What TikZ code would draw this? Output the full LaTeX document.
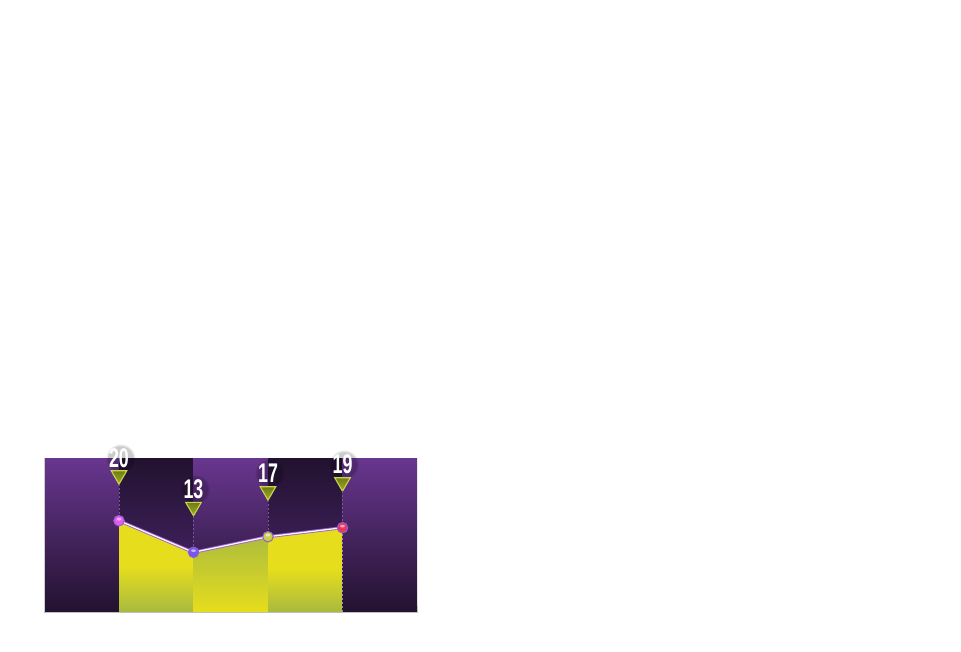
\documentclass[tikz,border=0pt]{standalone}
\usepackage{fontspec}
\newfontfamily\labfont{Liberation Sans}
\usetikzlibrary{shapes.geometric,fadings}
\definecolor{purpTop}{HTML}{68368F}
\definecolor{purpBot}{HTML}{22122F}
\definecolor{darkTop}{HTML}{22122F}
\definecolor{darkBot}{HTML}{4E2874}
\definecolor{yel}{HTML}{E6DD1C}
\definecolor{oli}{HTML}{A8BA3F}
\definecolor{linepurp}{HTML}{9C64D0}
\definecolor{triTop}{HTML}{6E7C16}
\definecolor{triBot}{HTML}{9CAE26}
\definecolor{triEdge}{HTML}{CBD548}
\definecolor{dashcol}{HTML}{75578E}
\definecolor{ballA}{HTML}{E35BF2}
\definecolor{ballB}{HTML}{7259EE}
\definecolor{ballC}{HTML}{C6D245}
\definecolor{ballD}{HTML}{E8385A}
\definecolor{ballEdge}{HTML}{9A5CD6}
\tikzset{
  x=1pt, y=-1pt,
  purpcol/.style={top color=purpTop, bottom color=purpBot},
  darkcol/.style={top color=darkTop, bottom color=darkBot},
  marker/.style={circle, inner sep=0pt, outer sep=0pt, minimum size=10.5pt, draw=ballEdge, line width=1pt, fill=#1},
  tri/.style={regular polygon, regular polygon sides=3, shape border rotate=180, minimum size=18pt, inner sep=0pt, outer sep=0pt, draw=triEdge, line width=1.1pt, top color=triTop, bottom color=triBot},
  lab/.style={anchor=base, inner sep=0pt, text=white, font=\labfont\bfseries\fontsize{27}{27}\selectfont},
  guide/.style={draw=dashcol, line width=0.6pt, dash pattern=on 2pt off 2pt},
  halo/.style={fill=black, opacity=0.2, path fading=circle with fuzzy edge 20 percent},
}
\newcommand{\mylabel}[4]{% name, x, y, text
  \fill[halo] (#2+1.5,#3-9) ellipse (15pt and 15pt);
  \node[lab] (#1) at (#2,#3) {\scalebox{0.66}[1]{#4}};
}
\begin{document}
\begin{tikzpicture}
\useasboundingbox (0,0) rectangle (961,651);
\fill[white] (0,0) rectangle (961,651);
% background columns
\shade[purpcol] (44.5,458) rectangle (119,612);
\shade[darkcol] (119,458) rectangle (193.5,612);
\shade[purpcol] (193.5,458) rectangle (268,612);
\shade[darkcol] (268,458) rectangle (342.5,612);
\shade[purpcol] (342.5,458) rectangle (417,612);
\draw[black!20, line width=0.4pt] (44.5,458) -- (44.5,612);
\draw[black!25, line width=1pt] (44.5,612.5) -- (417.5,612.5);
\draw[black!25, line width=1pt] (417.5,606) -- (417.5,612.5);
% data points
\coordinate (p1) at (119,520.7);
\coordinate (p2) at (193.5,552.3);
\coordinate (p3) at (268,536.7);
\coordinate (p4) at (342.5,527.7);
% area
\begin{scope}
\clip (119,612) -- (p1) -- (p2) -- (p3) -- (p4) -- (342.5,612) -- cycle;
\shade[top color=yel, bottom color=oli, middle color=yel] (119,520) rectangle (193.5,612);
\shade[top color=oli, bottom color=yel] (193.5,530) rectangle (268,612);
\shade[top color=yel, bottom color=oli, middle color=yel] (268,526) rectangle (342.5,612);
\end{scope}
\draw[dashcol!70, line width=0.5pt, dash pattern=on 2pt off 2pt] (342.5,530) -- (342.5,612);
% labels
\mylabel{l1}{119}{467.5}{20}
\mylabel{l2}{193.5}{498.3}{13}
\mylabel{l3}{268}{482}{17}
\mylabel{l4}{342.5}{473.5}{19}
% triangles
\node[tri] (t1) at (119,475.2) {};
\node[tri] (t2) at (193.5,506.8) {};
\node[tri] (t3) at (268,491.2) {};
\node[tri] (t4) at (342.5,482.2) {};
% line
\draw[linepurp, line width=3pt, line join=round] (p1) -- (p2) -- (p3) -- (p4);
\draw[white, line width=1.2pt, line join=round] (p1) -- (p2) -- (p3) -- (p4);
% markers
\node[marker=ballA] (m1) at (p1) {};
\node[marker=ballB] (m2) at (p2) {};
\node[marker=ballC] (m3) at (p3) {};
\node[marker=ballD] (m4) at (p4) {};
\foreach \m in {m1,m2,m3,m4}{
  \fill[white, opacity=0.55] ([yshift=1.6pt]\m.center) ellipse (2.4pt and 1.4pt);
}
% guides
\draw[guide] (t1.corner 1) -- (m1.north);
\draw[guide] (t2.corner 1) -- (m2.north);
\draw[guide] (t3.corner 1) -- (m3.north);
\draw[guide] (t4.corner 1) -- (m4.north);
\end{tikzpicture}
\end{document}
